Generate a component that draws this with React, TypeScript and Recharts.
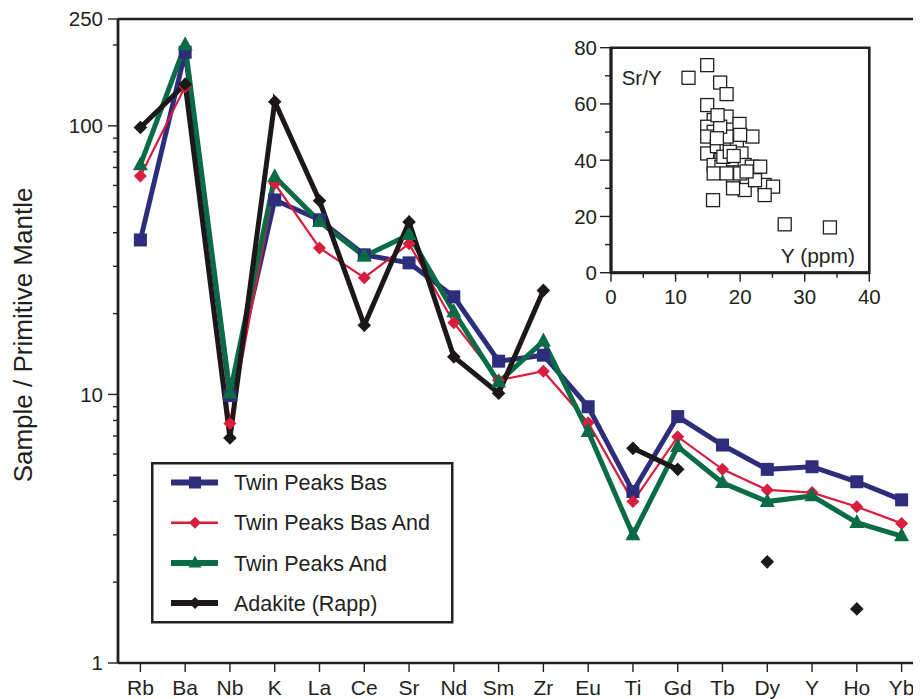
import React from 'react';
import {
  LineChart, Line, XAxis, YAxis, ReferenceLine, Legend,
  ScatterChart, Scatter, ReferenceArea,
} from 'recharts';

if (typeof document !== 'undefined') {
  document.documentElement.style.overflow = 'hidden';
  document.body.style.overflow = 'hidden';
}

// ---------- data ----------
const elements = ['Rb', 'Ba', 'Nb', 'K', 'La', 'Ce', 'Sr', 'Nd', 'Sm', 'Zr', 'Eu', 'Ti', 'Gd', 'Tb', 'Dy', 'Y', 'Ho', 'Yb'];
const twinPeaksBas = [37.6, 188, 9.9, 53, 44.7, 33.1, 30.9, 23.1, 13.3, 14.0, 9.0, 4.35, 8.27, 6.48, 5.26, 5.38, 4.73, 4.05];
const twinPeaksBasAnd = [65.1, 140, 7.8, 61, 35.1, 27.2, 36.4, 18.5, 11.3, 12.2, 7.85, 3.99, 6.96, 5.26, 4.41, 4.31, 3.82, 3.31];
const twinPeaksAnd = [71.6, 200, 10.1, 64.6, 44, 32.7, 39.3, 20.3, 11.1, 15.8, 7.27, 3.0, 6.39, 4.69, 3.99, 4.19, 3.33, 2.97];
const adakiteRapp = [98.6, 143, 6.89, 123, 52.6, 18.1, 43.9, 13.8, 10.1, 24.4, null, 6.3, 5.26, null, 2.38, null, 1.59, null];

const yTicks = [1, 2, 3, 4, 5, 6, 7, 8, 9, 10, 20, 30, 40, 50, 60, 70, 80, 90, 100, 200, 250];
const yMajor = [1, 10, 100, 250];

const insetY = [12.0, 14.9, 16.9, 17.9, 14.9, 15.8, 26.9, 33.9, 15.9, 17.9, 19.9, 21.9, 14.9, 15.9, 14.9, 14.9, 16.4, 17.9, 19.5, 20.2, 17.1, 15.9, 17.1, 18.9, 20.7, 21.8, 23.1, 18.9, 21.0, 20.7, 18.9, 23.8, 25.1, 23.8, 22.3, 17.9, 16.9, 20.0, 15.9, 17.9, 20.0, 17.4, 18.4, 16.4, 19.0, 21.0, 16.5];
const insetSrY = [69.3, 73.8, 67.6, 63.5, 59.6, 25.8, 17.2, 16.1, 54.3, 55.5, 52.9, 48.4, 51.9, 50.1, 48.4, 42.4, 45.0, 44.8, 46.0, 42.4, 40.1, 38.3, 37.7, 40.3, 38.3, 37.7, 37.7, 33.2, 32.9, 29.4, 30.0, 31.2, 30.6, 27.6, 32.9, 48.4, 51.9, 49.0, 35.3, 35.3, 35.3, 41.2, 43.0, 47.8, 41.5, 36.0, 56.0];
const insetXTicks = [0, 5, 10, 15, 20, 25, 30, 35, 40];
const insetXMajor = [0, 10, 20, 30, 40];
const insetYTicks = [0, 10, 20, 30, 40, 50, 60, 70, 80];
const insetYMajor = [0, 20, 40, 60, 80];

const data = elements.map((el, i) => ({
  el,
  bas: twinPeaksBas[i],
  basAnd: twinPeaksBasAnd[i],
  and: twinPeaksAnd[i],
  adakite: adakiteRapp[i],
}));
const insetData = insetY.map((y, i) => ({ y, sr: insetSrY[i] }));

// ---------- styles ----------
const FONT = '"Liberation Sans", Arial, Helvetica, sans-serif';
const INK = '#231f20';
const NAVY = '#2e2d7c';
const RED = '#d81d3d';
const GREEN = '#0a6b47';
const BLACK = '#1c1718';

// ---------- markers ----------
const sq = (cx: number, cy: number, s: number, fill: string) => (
  <rect x={cx - s / 2} y={cy - s / 2} width={s} height={s} fill={fill} />
);
const diamond = (cx: number, cy: number, r: number, fill: string) => (
  <polygon points={`${cx},${cy - r} ${cx + r},${cy} ${cx},${cy + r} ${cx - r},${cy}`} fill={fill} />
);
const tri = (cx: number, cy: number, w: number, h: number, fill: string) => (
  <polygon points={`${cx},${cy - h * 0.62} ${cx + w / 2},${cy + h * 0.38} ${cx - w / 2},${cy + h * 0.38}`} fill={fill} />
);

const makeDot = (kind: string) => (props: any) => {
  const { cx, cy, value, index } = props;
  const key = `${kind}-${index}`;
  if (cx == null || cy == null || value == null || Number.isNaN(cy)) return <g key={key} />;
  let m;
  if (kind === 'sq') m = sq(cx, cy, 13, NAVY);
  else if (kind === 'red') m = diamond(cx, cy, 6.5, RED);
  else if (kind === 'tri') m = tri(cx, cy, 15, 14, GREEN);
  else m = diamond(cx, cy, 6.8, BLACK);
  return <g key={key}>{m}</g>;
};

// ---------- ticks ----------
const MainYTick = (props: any) => {
  const { x, y, payload } = props;
  const v = payload.value;
  const major = yMajor.includes(v);
  return (
    <g>
      <line x1={x - (major ? 10 : 5)} x2={x} y1={y} y2={y} stroke={INK} strokeWidth={1.4} />
      {major && (
        <text x={x - 15} y={y + 7.3} textAnchor="end" fontSize={20.5} fontFamily={FONT} fill={INK}>{v}</text>
      )}
    </g>
  );
};

const MainXTick = (props: any) => {
  const { x, y, payload } = props;
  return (
    <text x={x} y={y + 23} textAnchor="middle" fontSize={21} fontFamily={FONT} fill={INK}>{payload.value}</text>
  );
};

const InsetXTick = (props: any) => {
  const { x, y, payload } = props;
  const v = payload.value;
  const major = insetXMajor.includes(v);
  return (
    <g>
      <line x1={x} x2={x} y1={y} y2={y + (major ? 9 : 5)} stroke={INK} strokeWidth={1.4} />
      {major && (
        <text x={x} y={y + 31.5} textAnchor="middle" fontSize={20.5} fontFamily={FONT} fill={INK}>{v}</text>
      )}
    </g>
  );
};

const InsetYTick = (props: any) => {
  const { x, y, payload } = props;
  const v = payload.value;
  const major = insetYMajor.includes(v);
  return (
    <g>
      <line x1={x - (major ? 11 : 6)} x2={x} y1={y} y2={y} stroke={INK} strokeWidth={1.4} />
      {major && (
        <text x={x - 14} y={y + 7.3} textAnchor="end" fontSize={20.5} fontFamily={FONT} fill={INK}>{v}</text>
      )}
    </g>
  );
};

// ---------- legend ----------
const legendItems = [
  { label: 'Twin Peaks Bas', color: NAVY, width: 6, kind: 'sq' },
  { label: 'Twin Peaks Bas And', color: RED, width: 2.5, kind: 'red' },
  { label: 'Twin Peaks And', color: GREEN, width: 6, kind: 'tri' },
  { label: 'Adakite (Rapp)', color: BLACK, width: 6, kind: 'blk' },
];

const LegendBox = () => (
  <svg width={303} height={162} style={{ display: 'block' }}>
    <rect x={1.25} y={1.25} width={300} height={159} fill="#fff" stroke={INK} strokeWidth={2.5} />
    {legendItems.map((it, i) => {
      const cy = 20.5 + i * 40.2;
      let m;
      if (it.kind === 'sq') m = sq(44, cy, 12, it.color);
      else if (it.kind === 'red') m = diamond(44, cy, 6, it.color);
      else if (it.kind === 'tri') m = tri(44, cy, 13, 12, it.color);
      else m = diamond(44, cy, 6, it.color);
      return (
        <g key={it.label}>
          <line x1={20} x2={67} y1={cy} y2={cy} stroke={it.color} strokeWidth={it.width} />
          {m}
          <text x={83} y={cy + 7.6} fontSize={21.5} fontFamily={FONT} fill={INK}>{it.label}</text>
        </g>
      );
    })}
  </svg>
);

const InsetSquare = (props: any) => {
  const { cx, cy } = props;
  return <rect x={cx - 6.5} y={cy - 6.5} width={13} height={13} fill="#fff" stroke={INK} strokeWidth={1.3} />;
};

export default function App() {
  return (
    <div style={{ position: 'relative', width: 913, height: 691, overflow: 'hidden', background: '#fff' }}>
      <LineChart
        width={916}
        height={691}
        data={data}
        margin={{ top: 11, right: 0, bottom: 0, left: 0 }}
      >
        <XAxis
          dataKey="el"
          type="category"
          interval={0}
          height={36}
          padding={{ left: 22.4, right: 22.4 }}
          tickSize={9}
          tickMargin={0}
          tickLine={{ stroke: INK, strokeWidth: 1.4 }}
          axisLine={{ stroke: INK, strokeWidth: 2.6 }}
          tick={<MainXTick />}
        />
        <YAxis
          type="number"
          scale="log"
          domain={[1, 250]}
          allowDataOverflow
          ticks={yTicks}
          interval={0}
          width={110}
          tickSize={0}
          tickMargin={0}
          tickLine={false}
          axisLine={{ stroke: INK, strokeWidth: 2.8 }}
          tick={<MainYTick />}
        />
        <ReferenceLine y={250} stroke={INK} strokeWidth={2.6} />
        <Line dataKey="bas" name="Twin Peaks Bas" type="linear" stroke={NAVY} strokeWidth={5} dot={makeDot('sq')} activeDot={false} isAnimationActive={false} />
        <Line dataKey="basAnd" name="Twin Peaks Bas And" type="linear" stroke={RED} strokeWidth={2.2} dot={makeDot('red')} activeDot={false} isAnimationActive={false} />
        <Line dataKey="and" name="Twin Peaks And" type="linear" stroke={GREEN} strokeWidth={5} dot={makeDot('tri')} activeDot={false} isAnimationActive={false} />
        <Line dataKey="adakite" name="Adakite (Rapp)" type="linear" stroke={BLACK} strokeWidth={5} dot={makeDot('blk')} activeDot={false} connectNulls={false} isAnimationActive={false} />
        <Legend
          layout="horizontal"
          verticalAlign="middle"
          align="center"
          wrapperStyle={{ left: 142.5, top: 453.5, width: 303, height: 162 }}
          content={() => <LegendBox />}
        />
        <text
          x={23.7}
          y={327}
          transform="rotate(-90, 23.7, 327)"
          textAnchor="middle"
          fontSize={26}
          fontFamily={FONT}
          fill={INK}
        >
          Sample / Primitive Mantle
        </text>
      </LineChart>

      <div style={{ position: 'absolute', left: 552, top: 22 }}>
        <ScatterChart
          width={330}
          height={290}
          margin={{ top: 17.7, right: 20.7, bottom: 0, left: 0 }}
        >
          <XAxis
            type="number"
            dataKey="y"
            domain={[0, 40]}
            ticks={insetXTicks}
            interval={0}
            height={47.3}
            tickSize={0}
            tickMargin={0}
            tickLine={false}
            axisLine={{ stroke: INK, strokeWidth: 3 }}
            tick={<InsetXTick />}
          />
          <YAxis
            type="number"
            dataKey="sr"
            domain={[0, 80]}
            ticks={insetYTicks}
            interval={0}
            width={51}
            tickSize={0}
            tickMargin={0}
            tickLine={false}
            axisLine={{ stroke: INK, strokeWidth: 3 }}
            tick={<InsetYTick />}
          />
          <ReferenceArea x1={0} x2={40} y1={0} y2={80} fill="none" fillOpacity={0} stroke={INK} strokeWidth={2.6} />
          <Scatter data={insetData} shape={<InsetSquare />} isAnimationActive={false} />
          <text x={61.7} y={55} fontSize={20.5} fontFamily={FONT} fill={INK}>Sr/Y</text>
          <text x={295} y={232.7} textAnchor="end" fontSize={21} fontFamily={FONT} fill={INK}>Y (ppm)</text>
        </ScatterChart>
      </div>
    </div>
  );
}
